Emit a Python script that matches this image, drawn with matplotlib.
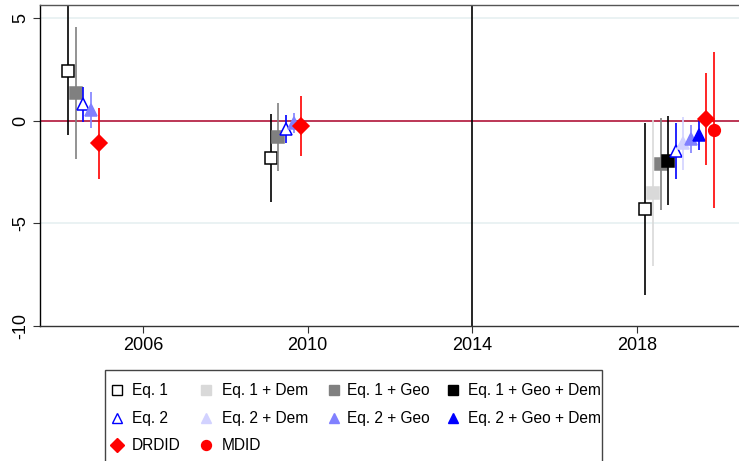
import numpy as np
import matplotlib
matplotlib.use("Agg")
import matplotlib.pyplot as plt
from matplotlib.lines import Line2D
from matplotlib.patches import Rectangle

plt.rcParams['font.family'] = ['Liberation Sans', 'DejaVu Sans']
plt.rcParams['axes.unicode_minus'] = False

# event groups (x base year of each cluster) and spacing of series inside a cluster
group_x = [2004.0, 2008.92, 2018.02]
step = 0.185
nan = np.nan

labels = ["Eq. 1", "Eq. 1 + Dem", "Eq. 1 + Geo", "Eq. 1 + Geo + Dem",
          "Eq. 2", "Eq. 2 + Dem", "Eq. 2 + Geo", "Eq. 2 + Geo + Dem",
          "DRDID", "MDID"]

# point estimates per group
eq1 = [2.43, -1.81, -4.30]
eq1_dem = [nan, nan, -3.53]
eq1_geo = [1.34, -0.80, -2.12]
eq1_geo_dem = [nan, nan, -1.96]
eq2 = [0.80, -0.40, -1.47]
eq2_dem = [nan, nan, -1.11]
eq2_geo = [0.50, -0.12, -0.90]
eq2_geo_dem = [nan, nan, -0.70]
drdid = [-1.10, -0.26, 0.10]
mdid = [nan, nan, -0.45]

# confidence intervals
eq1_lo = [-0.71, -3.95, -8.50];     eq1_hi = [5.70, 0.33, -0.11]
eq1_dem_lo = [nan, nan, -7.07];     eq1_dem_hi = [nan, nan, 0.01]
eq1_geo_lo = [-1.89, -2.43, -4.37]; eq1_geo_hi = [4.55, 0.86, 0.13]
eq1_gd_lo = [nan, nan, -4.13];      eq1_gd_hi = [nan, nan, 0.21]
eq2_lo = [-0.08, -1.08, -2.83];     eq2_hi = [1.64, 0.29, -0.11]
eq2_dem_lo = [nan, nan, -2.41];     eq2_dem_hi = [nan, nan, 0.18]
eq2_geo_lo = [-0.36, -0.60, -1.60]; eq2_geo_hi = [1.37, 0.35, -0.19]
eq2_gd_lo = [nan, nan, -1.41];      eq2_gd_hi = [nan, nan, 0.01]
drdid_lo = [-2.82, -1.73, -2.14];   drdid_hi = [0.62, 1.21, 2.34]
mdid_lo = [nan, nan, -4.24];        mdid_hi = [nan, nan, 3.33]

est = [eq1, eq1_dem, eq1_geo, eq1_geo_dem, eq2, eq2_dem, eq2_geo, eq2_geo_dem, drdid, mdid]
lo = [eq1_lo, eq1_dem_lo, eq1_geo_lo, eq1_gd_lo, eq2_lo, eq2_dem_lo, eq2_geo_lo, eq2_gd_lo, drdid_lo, mdid_lo]
hi = [eq1_hi, eq1_dem_hi, eq1_geo_hi, eq1_gd_hi, eq2_hi, eq2_dem_hi, eq2_geo_hi, eq2_gd_hi, drdid_hi, mdid_hi]

# style: (color, marker, size, filled)
styles = [
    ("black", "s", 8.0, False),
    ("#d9d9d9", "s", 8.4, True),
    ("#808080", "s", 8.4, True),
    ("black", "s", 8.4, True),
    ("blue", "^", 9.0, False),
    ("#d2d2ff", "^", 9.0, True),
    ("#8080ff", "^", 9.0, True),
    ("blue", "^", 9.0, True),
    ("red", "D", 7.8, True),
    ("red", "o", 8.4, True),
]

W, H = 739, 461
fig = plt.figure(figsize=(W/100, H/100), dpi=100)
ax = fig.add_axes([40/W, 1-326/H, 1-40/W, (326-5)/H])

ax.set_xlim(2003.5, 2020.48)
ax.set_ylim(-10, 5.63)

for yv in [-5, 5]:
    ax.axhline(yv, color="#eaf2f3", lw=1.4, zorder=0)
ax.axhline(0, color="#b01438", lw=1.2, zorder=1)
ax.axvline(2014, color="black", lw=1.2, zorder=1)

# x positions: series present in a group are placed one after another
xpos = [[nan]*3 for _ in labels]
for g in range(3):
    k = 0
    for i in range(len(labels)):
        if not np.isnan(est[i][g]):
            k += 1
            xpos[i][g] = group_x[g] + step*k

for i, lab in enumerate(labels):
    col, mk, ms, filled = styles[i]
    x = np.array(xpos[i]); y = np.array(est[i])
    ax.vlines(x, lo[i], hi[i], color=col, lw=1.2, zorder=2+i*0.1)
    ax.plot(x, y, ls="none", marker=mk, ms=ms, mec=col,
            mfc=col if filled else "white", mew=1.1, zorder=2.05+i*0.1)

ax.set_xticks([2006, 2010, 2014, 2018])
ax.set_yticks([-10, -5, 0, 5])
ax.tick_params(axis="both", labelsize=13, length=5, width=0.8, color="#333333")
ax.tick_params(axis="y", labelrotation=90, pad=3)
for t in ax.get_yticklabels():
    t.set_va("center")
ax.tick_params(axis="x", pad=3)

ax.spines["right"].set_visible(False)
ax.spines["left"].set_color("black")
ax.spines["bottom"].set_color("#333333")
ax.spines["top"].set_color("#555555")
for s in ax.spines.values():
    s.set_linewidth(1.0)

# legend drawn by hand: rows of the Stata legend
leg_rows = [[0, 1, 2, 3], [4, 5, 6, 7], [8, 9]]
key_x = [117, 206, 334, 453]
text_x = [132, 222, 347, 468]
row_y = [390, 418, 445]
fig.patches.append(Rectangle((105/W, 1-470/H), (602-105)/W, 100/H,
                             transform=fig.transFigure, fill=False,
                             edgecolor="#444444", lw=1.0))
for r, row in enumerate(leg_rows):
    for c, i in enumerate(row):
        col, mk, ms, filled = styles[i]
        fig.add_artist(Line2D([key_x[c]/W], [1-row_y[r]/H], ls="none", marker=mk,
                              ms=ms*0.85, mec=col, mfc=col if filled else "white",
                              mew=1.0, transform=fig.transFigure))
        fig.text(text_x[c]/W, 1-row_y[r]/H, labels[i], fontsize=11.2,
                 va="center", ha="left")

fig.savefig("out.png", dpi=100)
